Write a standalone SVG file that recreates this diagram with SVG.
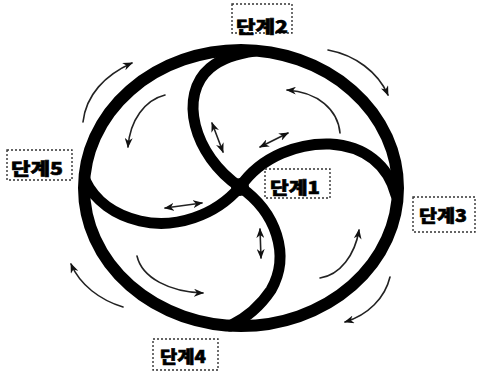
<svg xmlns="http://www.w3.org/2000/svg" width="478" height="372" viewBox="0 0 478 372">
<defs>
<style>
.ring{fill:none;stroke:#000;stroke-width:12}
.arm{fill:none;stroke:#000;stroke-width:11;stroke-linecap:round}
.arr{fill:none;stroke:#222;stroke-width:1.6;stroke-linecap:round}
.box{fill:#fff;stroke:#333;stroke-width:1.4;stroke-dasharray:2,2}
.lbl{font-family:"Noto Sans CJK KR","Noto Sans",sans-serif;font-weight:900;font-size:17px;fill:#000;stroke:#000;stroke-width:0.6}
</style>
<marker id="ah" viewBox="0 0 10 8" refX="9" refY="4" markerWidth="10" markerHeight="8" markerUnits="userSpaceOnUse" orient="auto-start-reverse">
<path d="M0,0 L10,4 L0,8 L3,4 z" fill="#111"/>
</marker>
</defs>
<rect width="478" height="372" fill="#fff"/>
<g id="figure">
<ellipse class="ring" cx="241" cy="188" rx="157" ry="138"/>
<path class="arm" d="M240,187 C193,155 178,95 210,68 C223,57 240,53 255,51"/>
<path class="arm" d="M240,187 C262,155 300,143 330,144 C365,146 388,165 396,195"/>
<path class="arm" d="M240,187 C276,212 291,255 271,290 C261,305 248,317 230,326"/>
<path class="arm" d="M240,187 C215,216 175,229 140,221 C115,215 95,201 85,180"/>
<circle cx="240" cy="187" r="9" fill="#000"/>
</g>
<g id="connectors">
<path class="arr" d="M83,122 C86,95 105,75 132,63" marker-end="url(#ah)"/>
<path class="arr" d="M328,50 C355,55 378,72 388,95" marker-end="url(#ah)"/>
<path class="arr" d="M390,277 C385,298 368,315 345,322" marker-end="url(#ah)"/>
<path class="arr" d="M123,307 C100,300 80,285 71,264" marker-end="url(#ah)"/>
<path class="arr" d="M165,95 C145,100 130,120 128,147" marker-end="url(#ah)"/>
<path class="arr" d="M340,133 C338,110 318,92 287,90" marker-end="url(#ah)"/>
<path class="arr" d="M320,278 C340,275 355,255 359,230" marker-end="url(#ah)"/>
<path class="arr" d="M137,256 C142,278 170,292 203,293" marker-end="url(#ah)"/>
<path class="arr" d="M212,123 L223,152" marker-start="url(#ah)" marker-end="url(#ah)"/>
<path class="arr" d="M260,147 L288,133" marker-start="url(#ah)" marker-end="url(#ah)"/>
<path class="arr" d="M165,208 L202,203" marker-start="url(#ah)" marker-end="url(#ah)"/>
<path class="arr" d="M260,229 L261,258" marker-start="url(#ah)" marker-end="url(#ah)"/>
</g>
<g id="stage2">
<rect class="box" x="232" y="4" width="60" height="29"/>
<text class="lbl" x="262" y="25" text-anchor="middle" dominant-baseline="central" textLength="52" lengthAdjust="spacingAndGlyphs">단계2</text>
</g>
<g id="stage5">
<rect class="box" x="7" y="150" width="65" height="30"/>
<text class="lbl" x="37" y="167" text-anchor="middle" dominant-baseline="central" textLength="52" lengthAdjust="spacingAndGlyphs">단계5</text>
</g>
<g id="stage1">
<rect class="box" x="265" y="169" width="65" height="29"/>
<text class="lbl" x="295" y="186" text-anchor="middle" dominant-baseline="central" textLength="50" lengthAdjust="spacingAndGlyphs">단계1</text>
</g>
<g id="stage3">
<rect class="box" x="413" y="197" width="62" height="35"/>
<text class="lbl" x="443" y="214" text-anchor="middle" dominant-baseline="central" textLength="48" lengthAdjust="spacingAndGlyphs">단계3</text>
</g>
<g id="stage4">
<rect class="box" x="153" y="339" width="65" height="31"/>
<text class="lbl" x="183" y="355" text-anchor="middle" dominant-baseline="central" textLength="46" lengthAdjust="spacingAndGlyphs">단계4</text>
</g>
</svg>
